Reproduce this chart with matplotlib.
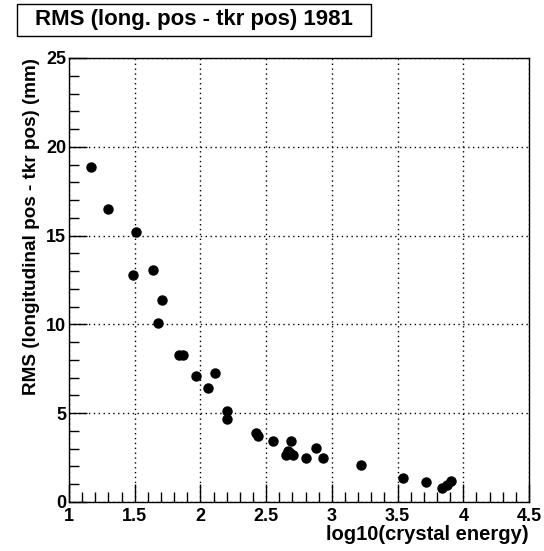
import matplotlib
matplotlib.use('Agg')
import matplotlib.pyplot as plt
from matplotlib.patches import Rectangle
from matplotlib.ticker import MultipleLocator, FormatStrFormatter

plt.rcParams['font.family'] = ['Liberation Sans', 'DejaVu Sans']
plt.rcParams['font.weight'] = 'bold'

# log10(crystal energy) vs RMS (mm)
log_energy = [1.17, 1.30, 1.51, 1.49, 1.64, 1.71, 1.68,
              1.84, 1.87, 1.97, 2.11, 2.06, 2.20, 2.20,
              2.42, 2.44, 2.55, 2.69, 2.665, 2.653, 2.704, 2.68,
              2.80, 2.88, 2.93, 3.22, 3.54, 3.72,
              3.84, 3.875, 3.91]
rms = [18.85, 16.5, 15.2, 12.8, 13.05, 11.4, 10.1,
       8.3, 8.3, 7.1, 7.25, 6.4, 5.13, 4.65,
       3.9, 3.7, 3.43, 3.43, 2.85, 2.62, 2.64, 2.75,
       2.46, 3.02, 2.46, 2.06, 1.33, 1.1,
       0.77, 0.96, 1.2]

W, H = 544, 551
fig = plt.figure(figsize=(W / 100, H / 100), dpi=100)
ax = fig.add_axes([69 / W, 1 - 502 / H, 460 / W, 444 / H])

ax.plot(log_energy, rms, 'o', color='black', markersize=6.5, linestyle='')

ax.set_xlim(1, 4.5)
ax.set_ylim(0, 25)
ax.xaxis.set_major_locator(MultipleLocator(0.5))
ax.xaxis.set_minor_locator(MultipleLocator(0.1))
ax.yaxis.set_major_locator(MultipleLocator(5))
ax.yaxis.set_minor_locator(MultipleLocator(1))
ax.xaxis.set_major_formatter(FormatStrFormatter('%g'))
ax.yaxis.set_major_formatter(FormatStrFormatter('%g'))

ax.tick_params(which='both', direction='in', top=False, right=False, labelsize=13, width=1)
ax.tick_params(which='major', length=13)
ax.tick_params(which='minor', length=7)
ax.tick_params(axis='x', pad=4)
ax.tick_params(axis='y', pad=2)
for lab in ax.get_xticklabels() + ax.get_yticklabels():
    lab.set_fontweight('bold')

ax.grid(True, which='major', color='black', linestyle=(0, (1, 2.5)), linewidth=1)

for sp in ax.spines.values():
    sp.set_linewidth(1)

ax.set_xlabel('log10(crystal energy)', fontsize=14.5, fontweight='bold', loc='right')
ax.set_ylabel('RMS (longitudinal pos - tkr pos) (mm)', fontsize=13.6, fontweight='bold', loc='top')
ax.xaxis.set_label_coords(1.0, -23 / 444)
ax.yaxis.set_label_coords(-29 / 460, 1.0)

# title box, ROOT style
title = fig.text(35 / W, 1 - 20 / H, 'RMS (long. pos - tkr pos) 1981', fontsize=16, fontweight='bold',
                 ha='left', va='center', zorder=3)
fig.canvas.draw()
tb = title.get_window_extent()
fig.patches.append(Rectangle((17 / W, 1 - 36 / H), (tb.x1 + 18 - 17) / W, 32 / H,
                             transform=fig.transFigure, facecolor='white', edgecolor='black',
                             linewidth=1, zorder=1))

fig.savefig('out.png', dpi=100)
